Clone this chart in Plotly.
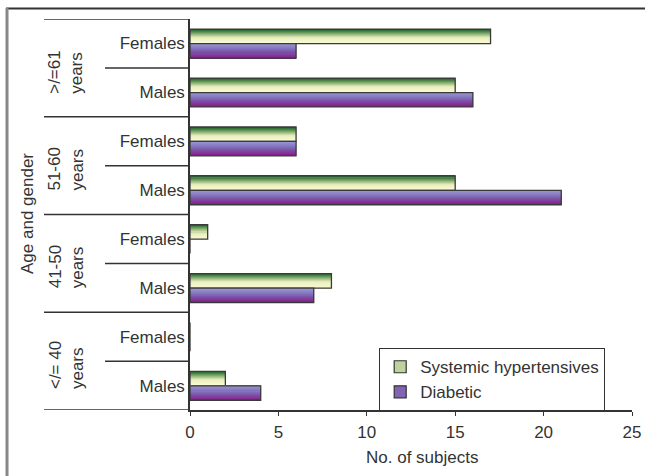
import plotly.graph_objects as go

# ---- data ----
row_labels = ["Males", "Females", "Males", "Females", "Males", "Females", "Males", "Females"]
group_labels = ["&lt;/= 40<br>years", "41-50<br>years", "51-60<br>years", "&gt;/=61<br>years"]
hypertensive = [2, 0, 8, 1, 15, 6, 15, 17]
diabetic = [4, 0, 7, 0, 21, 6, 16, 6]
series_names = ["Systemic hypertensives", "Diabetic"]
x_ticks = [0, 5, 10, 15, 20, 25]

# ---- styling ----
FONT = "Liberation Sans, Arial, sans-serif"
FS = 17
TXT = "#333333"
green_stops = [(0.0, (29, 88, 40)), (0.15, (60, 125, 62)), (0.38, (150, 182, 125)),
               (0.62, (232, 238, 188)), (1.0, (251, 251, 214))]
purple_stops = [(0.0, (156, 154, 214)), (0.3, (138, 128, 196)), (0.65, (122, 80, 168)),
                (1.0, (138, 30, 136))]

def interp(stops, t):
    for (t0, c0), (t1, c1) in zip(stops[:-1], stops[1:]):
        if t0 <= t <= t1:
            f = (t - t0) / (t1 - t0) if t1 > t0 else 0
            c = [round(a + (b - a) * f) for a, b in zip(c0, c1)]
            return f"rgb({c[0]},{c[1]},{c[2]})"
    c = stops[-1][1]
    return f"rgb({c[0]},{c[1]},{c[2]})"

# figure placed at the window origin (body margin removed after plotting)
PL, PT, PW, PH = 190, 19, 442, 391          # plot area in window pixels
def px(X):
    return (X - PL) / PW
def py(Y):
    return (PT + PH - Y) / PH

ypos = list(range(len(row_labels)))
BW = 0.295
N = 14
fig = go.Figure()

def add_gradient_bar(values, top_offset, stops):
    s = BW / N
    for k in range(N):
        fig.add_trace(go.Bar(
            x=values, y=ypos, orientation="h",
            width=s * 1.08, offset=top_offset - (k + 1) * s,
            marker=dict(color=interp(stops, (k + 0.5) / N), line=dict(width=0)),
            showlegend=False, hoverinfo="skip"))
    fig.add_trace(go.Bar(
        x=values, y=ypos, orientation="h", width=BW, offset=top_offset - BW,
        marker=dict(color="rgba(0,0,0,0)", line=dict(color="#3a3a3a", width=1.3)),
        showlegend=False, hoverinfo="skip"))

add_gradient_bar(hypertensive, BW - 0.005, green_stops)
add_gradient_bar(diabetic, -0.005, purple_stops)

# legend entries
for i, (name, stops) in enumerate(zip(series_names, [green_stops, purple_stops])):
    fig.add_trace(go.Bar(x=[None], y=[None], orientation="h", name=name, legendgroup=f"g{i}",
                         marker=dict(color=interp(stops, 0.5), line=dict(color="#333", width=1.2))))

shapes = []
for yb in [-0.5, 1.5, 3.5, 5.5, 7.5]:
    shapes.append(dict(type="line", xref="paper", yref="y", x0=px(44), x1=0, y0=yb, y1=yb,
                       line=dict(color="#333", width=1.5)))
for yb in [0.5, 2.5, 4.5, 6.5]:
    shapes.append(dict(type="line", xref="paper", yref="y", x0=px(105), x1=0, y0=yb, y1=yb,
                       line=dict(color="#333", width=1.5)))
# outer frame (top and left)
shapes.append(dict(type="line", xref="paper", yref="paper", x0=px(6), x1=px(645),
                   y0=py(8.5), y1=py(8.5), line=dict(color="#333", width=2)))
shapes.append(dict(type="line", xref="paper", yref="paper", x0=px(7), x1=px(7),
                   y0=py(8), y1=py(476), line=dict(color="#888", width=3)))

annotations = []
for i, g in enumerate(group_labels):
    annotations.append(dict(text=g, xref="paper", yref="y", x=px(66), y=2 * i + 0.5 - 0.08,
                            xanchor="center", yanchor="middle",
                            textangle=-90, showarrow=False, align="left",
                            font=dict(family=FONT, size=FS, color=TXT)))
annotations.append(dict(text="Age and gender", xref="paper", yref="paper", x=px(27),
                        y=py(214), xanchor="center", yanchor="middle", textangle=-90, showarrow=False,
                        font=dict(family=FONT, size=FS, color=TXT)))
annotations.append(dict(text="No. of subjects", xref="paper", yref="paper", x=px(422),
                        y=py(458), xanchor="center", yanchor="middle", showarrow=False,
                        font=dict(family=FONT, size=FS, color=TXT)))

W, H = 645, 476
fig.update_layout(
    width=W, height=H,
    margin=dict(l=PL, r=W - PL - PW, t=PT, b=H - PT - PH, autoexpand=False),
    paper_bgcolor="white", plot_bgcolor="white",
    barmode="overlay",
    font=dict(family=FONT, size=FS, color=TXT),
    showlegend=True,
    legend=dict(x=px(605), y=py(348), xanchor="right", yanchor="top",
                bgcolor="white", bordercolor="#333", borderwidth=1.2, tracegroupgap=4,
                font=dict(family=FONT, size=FS, color=TXT), traceorder="normal"),
    shapes=shapes, annotations=annotations,
    xaxis=dict(range=[0, 25], tickvals=x_ticks, ticks="outside", ticklen=4, tickcolor="#333",
               ticklabelstandoff=2,
               showline=True, linecolor="#333", linewidth=1.5, showgrid=False, zeroline=False,
               tickfont=dict(family=FONT, size=FS, color=TXT), fixedrange=True),
    yaxis=dict(range=[-0.5, 7.5], tickvals=ypos, ticktext=row_labels, ticks="",
               showline=True, linecolor="#333", linewidth=1.5, showgrid=False, zeroline=False,
               tickfont=dict(family=FONT, size=FS, color=TXT), fixedrange=True),
)

fig.write_html("out.html", config={"displayModeBar": False},
               post_script="document.body.style.margin='0';document.body.style.overflow='hidden';")
